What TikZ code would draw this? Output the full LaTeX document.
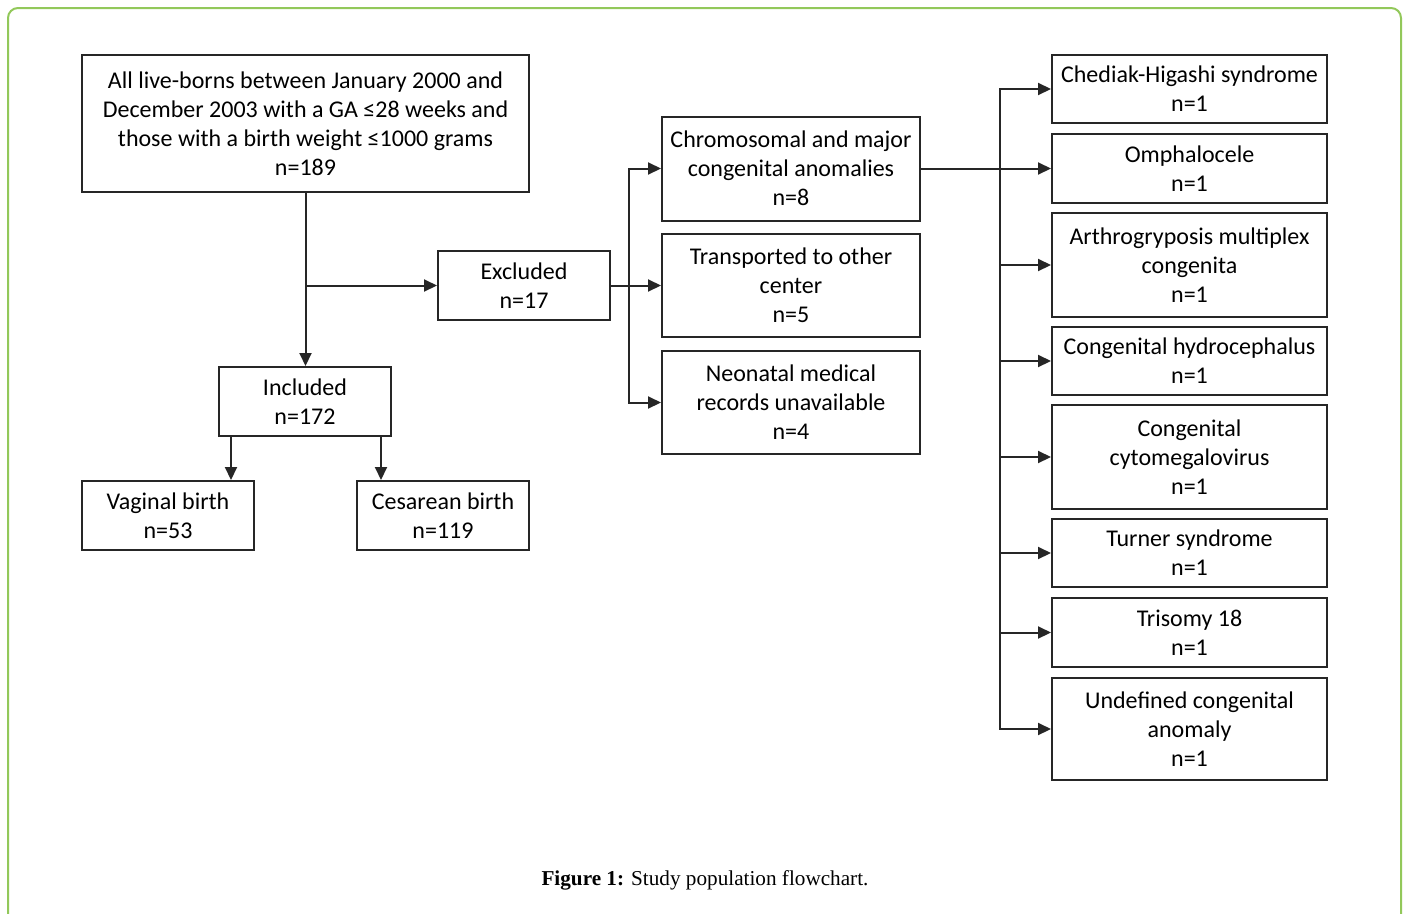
\documentclass[tikz,border=0pt]{standalone}
\usepackage{fontspec}
\setmainfont{Carlito}
\newfontfamily\capfont{Liberation Serif}
\usetikzlibrary{arrows.meta}
\definecolor{framegreen}{RGB}{146,200,90}
\begin{document}
\begin{tikzpicture}[x=1pt,y=-1pt,
  box/.style={draw=black!85, line width=2pt, align=center, inner sep=0pt,
    font=\fontsize{24}{29}\selectfont},
  conn/.style={draw=black!85, line width=2pt},
  arr/.style={conn, -{Triangle[length=13pt,width=12pt]}},
]
\useasboundingbox (0,0) rectangle (1407,913);
\draw[framegreen, line width=2pt, rounded corners=10pt] (8,940) -- (8,8) -- (1401,8) -- (1401,940);

% left part
\node[box, minimum width=447pt, minimum height=137pt] (top) at (305.5,123.5)
  {All live-borns between January 2000 and\\December 2003 with a GA ≤28 weeks and\\those with a birth weight ≤1000 grams\\n=189};
\node[box, minimum width=172pt, minimum height=69pt] (excl) at (524,285.5) {Excluded\\n=17};
\node[box, minimum width=172pt, minimum height=69pt] (incl) at (305,401.5) {Included\\n=172};
\node[box, minimum width=172pt, minimum height=69pt] (vag) at (168,515.5) {Vaginal birth\\n=53};
\node[box, minimum width=172pt, minimum height=69pt] (ces) at (443,515.5) {Cesarean birth\\n=119};

% middle column
\node[box, minimum width=258pt, minimum height=104pt] (chrom) at (791,168.5) {Chromosomal and major\\congenital anomalies\\n=8};
\node[box, minimum width=258pt, minimum height=103pt] (trans) at (791,285.5) {Transported to other\\center\\n=5};
\node[box, minimum width=258pt, minimum height=103pt] (neo) at (791,402.5) {Neonatal medical\\records unavailable\\n=4};

% right column
\node[box, minimum width=275pt, minimum height=68pt] (ched) at (1189.5,89) {Chediak-Higashi syndrome\\n=1};
\node[box, minimum width=275pt, minimum height=69pt] (omph) at (1189.5,168.5) {Omphalocele\\n=1};
\node[box, minimum width=275pt, minimum height=104pt] (arth) at (1189.5,265) {Arthrogryposis multiplex\\congenita\\n=1};
\node[box, minimum width=275pt, minimum height=68pt] (hydro) at (1189.5,361) {Congenital hydrocephalus\\n=1};
\node[box, minimum width=275pt, minimum height=104pt] (cmv) at (1189.5,457) {Congenital\\cytomegalovirus\\n=1};
\node[box, minimum width=275pt, minimum height=68pt] (turn) at (1189.5,553) {Turner syndrome\\n=1};
\node[box, minimum width=275pt, minimum height=69pt] (tri) at (1189.5,632.5) {Trisomy 18\\n=1};
\node[box, minimum width=275pt, minimum height=102pt] (undef) at (1189.5,729) {Undefined congenital\\anomaly\\n=1};

% connectors left
\coordinate (j1) at (top.south |- excl.west);
\draw[arr] (top.south) -- (top.south |- incl.north);
\draw[arr] (j1) -- (excl.west);
\draw[arr] ([xshift=13pt]incl.south west) -- ([xshift=13pt]incl.south west |- vag.north);
\draw[arr] ([xshift=-11pt]incl.south east) -- ([xshift=-11pt]incl.south east |- ces.north);

% connectors middle
\coordinate (t1) at (629,285.5);
\draw[conn] (excl.east) -- (t1);
\draw[arr] (t1) -- (trans.west);
\draw[arr] (t1) |- (chrom.west);
\draw[arr] (t1) |- (neo.west);

% connectors right
\coordinate (t2) at (1000,168.5);
\draw[arr] (chrom.east) -- (omph.west);
\foreach \n in {ched,arth,hydro,cmv,turn,tri,undef}
  \draw[arr] (t2) |- (\n.west);

% caption
\node[font=\capfont\fontsize{21.2}{24}\selectfont] (cap) at (705,880)
  {\textbf{Figure 1:} Study population flowchart.};
\end{tikzpicture}
\end{document}
